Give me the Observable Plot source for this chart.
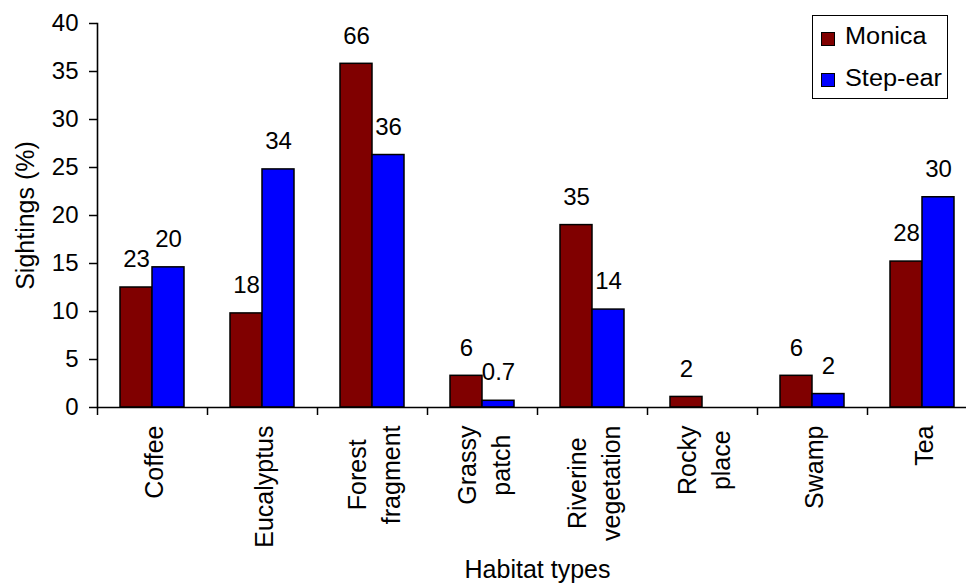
<!DOCTYPE html>
<html><head><meta charset="utf-8">
<script src="https://cdn.jsdelivr.net/npm/d3@7"></script>
<script src="https://cdn.jsdelivr.net/npm/@observablehq/plot@0.6"></script>
<style>
html,body{margin:0;padding:0;background:#fff;overflow:hidden}
#chart{position:relative;width:966px;height:583px;font-family:"Liberation Sans",Arial,sans-serif}
#legend{position:absolute;left:812px;top:15px;width:134px;height:82px;border:1px solid #000;background:#fff}
.sw{position:absolute;left:8px;width:12px;height:12px;border:1px solid #000}
.lt{position:absolute;left:32px;font-size:23px;line-height:23px;color:#000;white-space:nowrap;transform:scaleX(1.1);transform-origin:0 50%}
</style></head><body><div id="chart"></div>
<script>
const categories = ["Coffee","Eucalyptus","Forest fragment","Grassy patch","Riverine vegetation","Rocky place","Swamp","Tea"];
const categoryLabels = ["Coffee","Eucalyptus","Forest\nfragment","Grassy\npatch","Riverine\nvegetation","Rocky\nplace","Swamp","Tea"];
const series = ["Monica","Step-ear"];
const seriesColors = ["#800000","#0000ff"];
const monicaPct = [12.5, 9.8, 35.8, 3.3, 19.0, 1.1, 3.3, 15.2];
const stepEarPct = [14.6, 24.8, 26.3, 0.7, 10.2, 0, 1.4, 21.9];
const monicaCounts = ["23","18","66","6","35","2","6","28"];
const stepEarCounts = ["20","34","36","0.7","14","","2","30"];
const yTicks = [0,5,10,15,20,25,30,35,40];
const yTitle = "Sightings (%)";
const xTitle = "Habitat types";

const rows = [];
categories.forEach((c,i)=>{
  rows.push({category:c, series:series[0], value:monicaPct[i], label:monicaCounts[i]});
  rows.push({category:c, series:series[1], value:stepEarPct[i], label:stepEarCounts[i]});
});
const bars = rows.filter(d=>d.value>0);
const catRows = categories.map((c,i)=>({category:c, label:categoryLabels[i]}));
const FONT = '"Liberation Sans", Arial, sans-serif';
const half = 23; // gap between facet edge and category boundary (px)

const plot = Plot.plot({
  width:966, height:583, marginTop:23, marginBottom:176, marginLeft:97, marginRight:0,
  style:{fontFamily:FONT, background:"white", color:"#000"},
  fx:{domain:categories, range:[97,977], paddingInner:0.418, paddingOuter:0.209, axis:null, label:null},
  x:{domain:series, padding:0, axis:null},
  y:{domain:[0,40], axis:null},
  color:{domain:series, range:seriesColors},
  marks:[
    Plot.barY(bars,{fx:"category", x:"series", y:"value", fill:"series", stroke:"#000", strokeWidth:1.5}),
    Plot.text(bars,{fx:"category", x:"series", y:"value", text:"label", dy:-28, fontSize:24, fill:"#000"}),
    Plot.ruleY([0],{insetLeft:-half, insetRight:-half, stroke:"#000", strokeWidth:1.6}),
    Plot.frame({anchor:"left", facetAnchor:"left", dx:-half, stroke:"#000", strokeWidth:1.6}),
    Plot.axisY(yTicks,{anchor:"left", tickSize:8, tickPadding:11, fontSize:24, label:null, strokeWidth:1.5, dx:-half}),
    Plot.axisFx({anchor:"bottom", tickSize:8, tickFormat:()=>"", label:null, dx:-55, strokeWidth:1.5}),
    Plot.text(catRows,{fx:"category", x:null, y:null, text:"label", frameAnchor:"bottom", rotate:-90, textAnchor:"end", lineAnchor:"middle", dy:18, fontSize:25, lineHeight:1.36, className:"catlab", fill:"#000"}),
    Plot.text([yTitle],{x:null, y:null, text:d=>d, frameAnchor:"left", textAnchor:"middle", lineAnchor:"middle", dx:-95, rotate:-90, facet:"super", fontSize:25, fill:"#000"}),
    Plot.text([xTitle],{x:null, y:null, text:d=>d, frameAnchor:"bottom", textAnchor:"middle", lineAnchor:"middle", dx:0, dy:162, facet:"super", fontSize:25, fill:"#000"})
  ]
});
const chart = document.getElementById("chart");
chart.appendChild(plot);

// center the lines of multi-line category labels within their block
plot.querySelectorAll("g.catlab text").forEach(t=>{
  const spans = t.querySelectorAll("tspan");
  if (spans.length > 1) {
    let L = 0;
    spans.forEach(s=>{ L = Math.max(L, s.getComputedTextLength()); });
    t.setAttribute("text-anchor","middle");
    spans.forEach(s=>s.setAttribute("x", -L/2));
  }
});

// legend
const legend = document.createElement("div");
legend.id = "legend";
const swTops = [16, 57], txtTops = [9, 51];
series.forEach((s,i)=>{
  const sw = document.createElement("div");
  sw.className = "sw"; sw.style.top = swTops[i]+"px"; sw.style.background = seriesColors[i];
  const lt = document.createElement("div");
  lt.className = "lt"; lt.style.top = txtTops[i]+"px"; lt.textContent = s;
  legend.appendChild(sw); legend.appendChild(lt);
});
chart.appendChild(legend);
</script></body></html>
